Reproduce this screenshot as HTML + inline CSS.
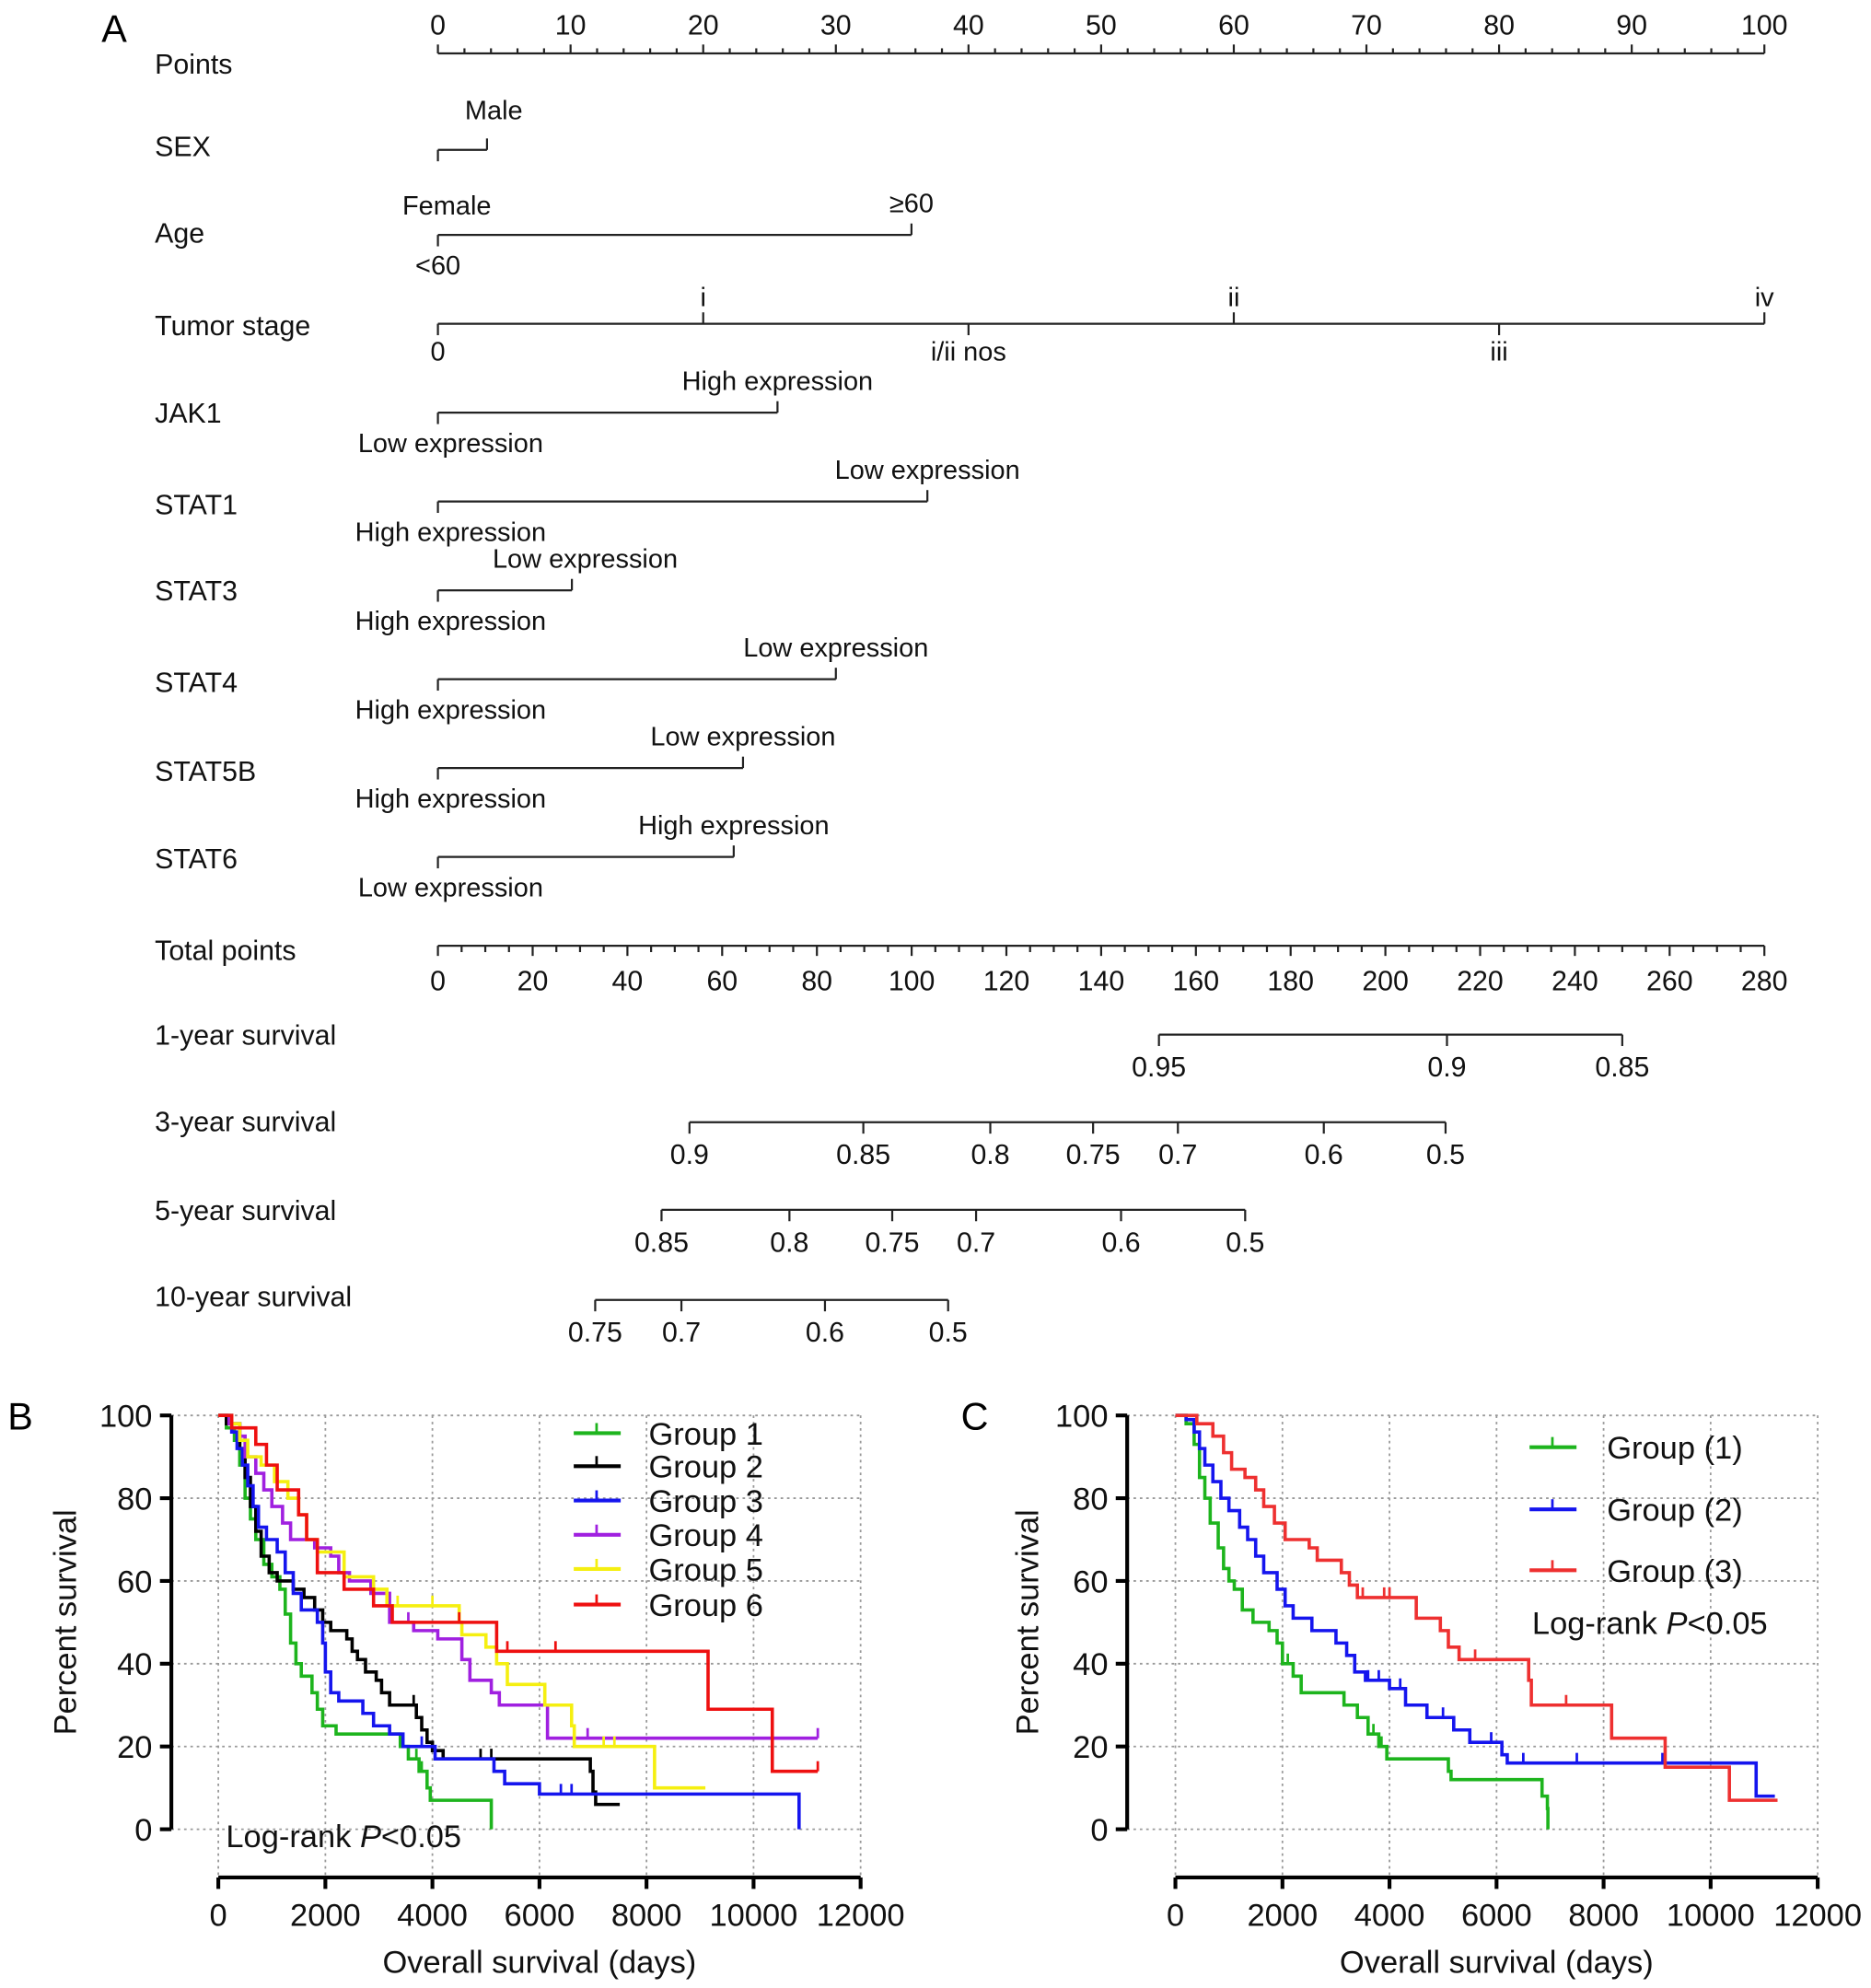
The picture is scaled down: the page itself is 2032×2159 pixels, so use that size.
<!DOCTYPE html>
<html><head><meta charset="utf-8">
<style>
html,body{margin:0;padding:0;background:#fff;}
svg{display:block;font-family:"Liberation Sans",Arial,sans-serif;}
</style></head>
<body>
<svg id="fig" width="2032" height="2159" viewBox="0 0 1474 1566" xmlns="http://www.w3.org/2000/svg">
<rect x="0" y="0" width="1474" height="1566" fill="#fff"/>
<text x="80" y="33" font-size="30">A</text>
<g id="nomo"></g>
<text x="6" y="1126" font-size="30">B</text>
<text x="757" y="1126" font-size="30">C</text>
<g id="kmB"></g>
<g id="kmC"></g>
</svg>
<script>
// ---------- Nomogram data ----------
const pointTicks = [0,10,20,30,40,50,60,70,80,90,100];
const totalTicks = [0,20,40,60,80,100,120,140,160,180,200,220,240,260,280];
const rowNames = ["Points","SEX","Age","Tumor stage","JAK1","STAT1","STAT3","STAT4","STAT5B","STAT6","Total points","1-year survival","3-year survival","5-year survival","10-year survival"];
const rowLabelY = [50,115,183,256,325,397,465,537,607,676,748,815,883,953,1021];
const varLineY = [118,185,325,395,465,535,605,675];
const varMax = [3.7,35.7,25.6,36.9,10.1,30,23.0,22.3];
const varTopLabel = ["Male","≥60","High expression","Low expression","Low expression","Low expression","Low expression","High expression"];
const varBottomLabel = ["","<60","Low expression","High expression","High expression","High expression","High expression","Low expression"];
const stageVals = [0,20,40,60,80,100];
const stageLabels = ["0","i","i/ii nos","ii","iii","iv"];
const survRowsY = [815,884,953,1024];
const survLabels = [["0.95","0.9","0.85"],["0.9","0.85","0.8","0.75","0.7","0.6","0.5"],["0.85","0.8","0.75","0.7","0.6","0.5"],["0.75","0.7","0.6","0.5"]];
const survTotals = [[152.2,213.0,250.0],[53.1,89.8,116.6,138.3,156.2,187.0,212.7],[47.2,74.2,95.9,113.6,144.2,170.4],[33.2,51.4,81.7,107.7]];

const NS="http://www.w3.org/2000/svg";
function mk(tag,attrs,parent){const e=document.createElementNS(NS,tag);for(const k in attrs)e.setAttribute(k,attrs[k]);parent.appendChild(e);return e;}
function txt(parent,x,y,s,size,anchor){const t=mk("text",{x:x,y:y,"font-size":size,"text-anchor":anchor||"start",fill:"#111"},parent);t.textContent=s;return t;}
const nomo=document.getElementById("nomo");
const px=p=>345+p*10.45;
const tx=t=>345+t*(1045/280);
const SW=1.6;

rowNames.forEach((n,i)=>{const t=txt(nomo,122,rowLabelY[i]+8,n,22);

});

// Points axis
let l=mk("line",{x1:px(0),x2:px(100),y1:42,y2:42,stroke:"#222","stroke-width":SW},nomo);


for(let p=0;p<=100;p+=2){const major=p%10===0;mk("line",{x1:px(p),x2:px(p),y1:42,y2:major?35:38,stroke:"#222","stroke-width":SW},nomo);}
pointTicks.forEach(p=>{const t=txt(nomo,px(p),27,String(p),22,"middle");

});

// Variable rows
varLineY.forEach((y,i)=>{
  const g=mk("g",{},nomo);
  
  
  mk("line",{x1:px(0),x2:px(varMax[i]),y1:y,y2:y,stroke:"#222","stroke-width":SW},g);
  mk("line",{x1:px(0),x2:px(0),y1:y,y2:y+9,stroke:"#222","stroke-width":SW},g);
  mk("line",{x1:px(varMax[i]),x2:px(varMax[i]),y1:y,y2:y-9,stroke:"#222","stroke-width":SW},g);
  let xt = px(varMax[i]);
  if(i===0) xt = 389;
  if(i===4) xt = 461;
  txt(g,xt,y-(i===0?24:18),varTopLabel[i],21,"middle");
  if(varBottomLabel[i]) txt(g,i===1?px(0):355,y+31,varBottomLabel[i],21,"middle");
});
let fe=txt(nomo,352,169,"Female",21,"middle");



// Tumor stage
const ts=mk("g",{},nomo);


mk("line",{x1:px(0),x2:px(100),y1:255,y2:255,stroke:"#222","stroke-width":SW},ts);
stageVals.forEach((v,i)=>{const up=(i%2===1);
  mk("line",{x1:px(v),x2:px(v),y1:255,y2:up?246:264,stroke:"#222","stroke-width":SW},ts);
  txt(ts,px(v),up?241:284,stageLabels[i],21,"middle");});

// Total points
const tp=mk("g",{},nomo);


mk("line",{x1:tx(0),x2:tx(280),y1:745,y2:745,stroke:"#222","stroke-width":SW},tp);
for(let t=0;t<=280;t+=5){const major=t%20===0;mk("line",{x1:tx(t),x2:tx(t),y1:745,y2:major?753:750,stroke:"#222","stroke-width":SW},tp);}
totalTicks.forEach(t=>txt(tp,tx(t),780,String(t),22,"middle"));

// Survival rows
survRowsY.forEach((y,i)=>{
  const g=mk("g",{},nomo);
  
  
  const v=survTotals[i];
  mk("line",{x1:tx(v[0]),x2:tx(v[v.length-1]),y1:y,y2:y,stroke:"#222","stroke-width":SW},g);
  v.forEach((t,j)=>{mk("line",{x1:tx(t),x2:tx(t),y1:y,y2:y+9,stroke:"#222","stroke-width":SW},g);
    txt(g,tx(t),y+33,survLabels[i][j],22,"middle");});
});

// ---------- KM data ----------
const xTicksKM = [0,2000,4000,6000,8000,10000,12000];
const yTicksKM = [0,20,40,60,80,100];
const namesB = ["Group 1","Group 2","Group 3","Group 4","Group 5","Group 6"];
const colorsB = ["#1db41d","#000000","#1515ee","#a020e0","#f5ef10","#ee1010"];
const b1 = [[0,100],[150,97],[300,94],[400,88],[500,80],[600,75],[700,70],[850,64],[1000,61],[1150,58],[1250,52],[1350,45],[1450,40],[1550,37],[1750,33],[1850,29],[1950,25],[2200,23],[3400,20],[3550,17],[3750,14],[3900,10],[3960,7],[5100,0]];
const b2 = [[0,100],[150,98],[400,92],[500,85],[600,78],[700,72],[800,66],[950,62],[1100,60],[1400,58],[1600,56],[1800,53],[1950,50],[2100,48],[2400,46],[2500,43],[2600,41],[2750,38],[2950,36],[3050,33],[3200,30],[3700,27],[3800,24],[3900,21],[4000,19],[4200,17],[6950,14],[7000,9],[7050,6],[7500,6]];
const b3 = [[0,100],[250,96],[350,92],[450,88],[550,83],[650,78],[750,73],[900,70],[1100,67],[1250,62],[1400,57],[1550,53],[1850,50],[1950,45],[2000,38],[2100,33],[2250,31],[2700,28],[2900,25],[3200,23],[3450,20],[4050,17],[5150,14],[5350,11],[6000,8.5],[10850,0]];
const b4 = [[0,100],[200,98],[400,95],[500,90],[700,86],[850,82],[1000,78],[1200,74],[1350,70],[1800,68],[2100,66],[2250,62],[2450,60],[2850,57],[3200,50],[3650,48],[4100,46],[4550,41],[4700,36],[5100,33],[5250,30],[6150,22],[11200,22]];
const b5 = [[0,100],[250,98],[400,94],[550,90],[800,88],[1050,84],[1300,80],[1500,76],[1650,70],[1850,67],[2350,61],[2900,58],[3150,54],[4500,50],[4550,47],[5000,44],[5200,40],[5400,35],[6100,30],[6600,25],[6650,20],[8150,10],[9100,10]];
const b6 = [[0,100],[250,97],[700,93],[900,88],[1100,82],[1500,76],[1650,70],[1850,62],[2350,58],[2900,54],[3250,50],[5200,43],[9150,29],[10350,14],[11200,14]];
const censB = [[3700,3800],[3650,4900,5100],[3800,6400,6600],[3550,6900,11200],[3350,4000,7200,7400],[4500,5400,6300,11200]];
const namesC = ["Group (1)","Group (2)","Group (3)"];
const colorsC = ["#1db41d","#1515ee","#ee3030"];
const c1 = [[0,100],[200,98],[350,93],[450,85],[550,80],[650,74],[800,68],[900,63],[1000,60],[1100,58],[1250,53],[1450,50],[1750,48],[1900,45],[2000,40],[2200,37],[2350,33],[3150,30],[3400,27],[3600,23],[3800,20],[3950,17],[5100,14],[5150,12],[6850,8],[6950,5],[6960,0]];
const c2 = [[0,100],[200,99],[350,96],[450,92],[550,88],[700,84],[850,80],[1000,77],[1200,73],[1350,70],[1500,66],[1650,62],[1900,58],[2050,54],[2200,51],[2550,48],[3000,45],[3200,42],[3350,38],[3550,36],[4000,34],[4300,30],[4700,27],[5200,24],[5500,21],[6100,18],[6200,16],[10850,8],[11200,8]];
const c3 = [[0,100],[400,98],[700,95],[900,91],[1050,87],[1300,85],[1500,82],[1650,78],[1850,74],[2050,70],[2500,68],[2650,65],[3100,62],[3250,59],[3400,56],[4500,51],[4950,48],[5100,44],[5300,41],[6600,36],[6650,30],[8150,22],[9150,15],[10350,7],[11250,7]];
const censC = [[2100,3700,3850],[3600,3800,4200,5000,5900,6500,7500,9100],[3500,3900,4000,5600,7300]];

function km(gid,cfg){
  const g=document.getElementById(gid);
  const X=v=>cfg.x0+v/12000*(cfg.x1-cfg.x0);
  const Y=v=>cfg.y0-v/100*(cfg.y0-cfg.yTop);
  yTicksKM.forEach(v=>{const gl=mk("line",{x1:cfg.yAxisX,x2:X(12000),y1:Y(v),y2:Y(v),stroke:"#999","stroke-width":1.3,"stroke-dasharray":"2,3"},g);
    
    });
  xTicksKM.forEach(v=>{const gl=mk("line",{x1:X(v),x2:X(v),y1:cfg.yTop,y2:cfg.xAxisY,stroke:"#999","stroke-width":1.3,"stroke-dasharray":"2,3"},g);
    
    });
  const ya=mk("line",{x1:cfg.yAxisX,x2:cfg.yAxisX,y1:cfg.yTop,y2:cfg.y0,stroke:"#000","stroke-width":3},g);
  
  
  yTicksKM.forEach(v=>{mk("line",{x1:cfg.yAxisX-9,x2:cfg.yAxisX,y1:Y(v),y2:Y(v),stroke:"#000","stroke-width":3},g);
    const t=txt(g,cfg.yAxisX-15,Y(v)+9,String(v),25,"end");
    
    });
  const xa=mk("line",{x1:X(0),x2:X(12000),y1:cfg.xAxisY,y2:cfg.xAxisY,stroke:"#000","stroke-width":3},g);
  
  
  xTicksKM.forEach(v=>{mk("line",{x1:X(v),x2:X(v),y1:cfg.xAxisY,y2:cfg.xAxisY+9,stroke:"#000","stroke-width":3},g);
    const t=txt(g,X(v),cfg.xAxisY+38,String(v),25,"middle");
    
    });
  const yl=txt(g,0,0,"Percent survival",25,"middle");
  yl.setAttribute("transform","translate("+cfg.yLabelX+","+((cfg.yTop+cfg.y0)/2)+") rotate(-90)");
  
  
  const xl=txt(g,(X(0)+X(12000))/2,cfg.xAxisY+75,"Overall survival (days)",25,"middle");
  
  
  cfg.series.forEach((s,i)=>{
    let d="M"+X(s[0][0])+","+Y(s[0][1]);
    for(let k=1;k<s.length;k++){d+=" H"+X(s[k][0])+" V"+Y(s[k][1]);}
    const p=mk("path",{d:d,fill:"none",stroke:cfg.colors[i],"stroke-width":2.6},g);
    
    
    cfg.cens[i].forEach(t=>{let v=s[0][1];for(const q of s){if(q[0]<=t)v=q[1];}
      const c=mk("line",{x1:X(t),x2:X(t),y1:Y(v),y2:Y(v)-8,stroke:cfg.colors[i],"stroke-width":2},g);
      
      });
    const ly=cfg.legY[i];
    const lg=mk("g",{},g);
    
    
    mk("line",{x1:cfg.legX,x2:cfg.legX+37,y1:ly,y2:ly,stroke:cfg.colors[i],"stroke-width":3},lg);
    mk("line",{x1:cfg.legX+18,x2:cfg.legX+18,y1:ly,y2:ly-8,stroke:cfg.colors[i],"stroke-width":2},lg);
    txt(lg,cfg.legTextX,ly+9,cfg.names[i],25,"start");
  });
  const lr=mk("text",{x:cfg.lrX,y:cfg.lrY,"font-size":25,fill:"#111"},g);
  lr.innerHTML='Log-rank <tspan font-style="italic">P</tspan>&lt;0.05';
  
  
}
km("kmB",{x0:172,x1:678,yTop:1115,y0:1441,yAxisX:135,xAxisY:1479,yLabelX:60,
  series:[b1,b2,b3,b4,b5,b6],colors:colorsB,names:namesB,cens:censB,
  legX:452,legTextX:511,legY:[1129,1155,1182,1209,1236,1264],lrX:178,lrY:1455});
km("kmC",{x0:926,x1:1432,yTop:1115,y0:1441,yAxisX:888,xAxisY:1479,yLabelX:818,
  series:[c1,c2,c3],colors:colorsC,names:namesC,cens:censC,
  legX:1205,legTextX:1266,legY:[1140,1189,1237],lrX:1207,lrY:1287});
</script>
</body></html>
